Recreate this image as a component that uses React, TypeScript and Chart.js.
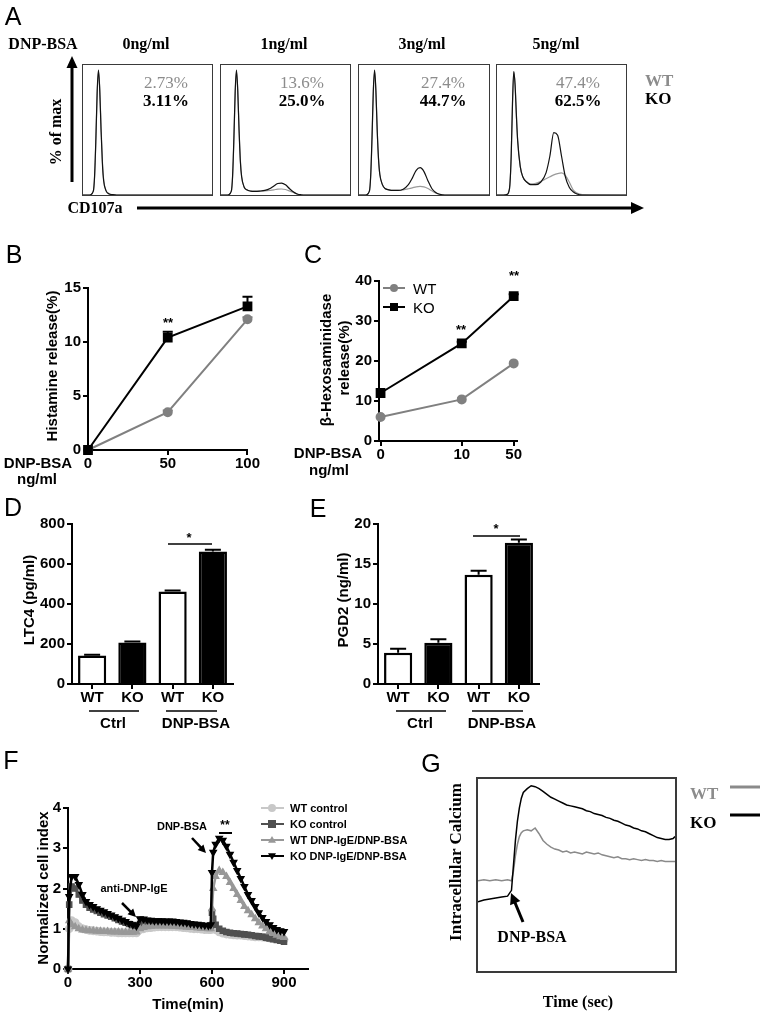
import React, { useEffect, useRef } from 'react';
import { Chart, registerables } from 'chart.js';
Chart.register(...registerables);

const SANS = '"Liberation Sans", Arial, Helvetica, sans-serif';
const SERIF = '"Liberation Serif", "Times New Roman", Times, serif';

// ---------- Panel A: CD107a histograms (channel 0-100, % of max) ----------
const aChannels = [0, 5, 8, 9, 10, 11, 12, 13, 14, 15, 16, 18, 20, 23, 26, 30, 34, 38, 41, 44, 47, 50, 53, 56, 59, 62, 66, 100];
const a0WT = [0, 0, 3, 14, 42, 78, 95, 82, 52, 27, 12, 3, 1, 0.3, 0, 0, 0, 0, 0, 0, 0, 0, 0, 0, 0, 0, 0, 0];
const a0KO = [0, 0, 3, 15, 44, 80, 96, 80, 50, 25, 11, 3, 1, 0.3, 0, 0, 0, 0, 0, 0, 0, 0, 0, 0, 0, 0, 0, 0];
const a1WT = [0, 0, 3, 14, 42, 78, 95, 80, 50, 27, 14, 6, 4, 3, 3, 3, 3.2, 3.6, 4, 4.5, 4.6, 4.2, 3.2, 2, 0.8, 0.2, 0, 0];
const a1KO = [0, 0, 3, 15, 44, 80, 96, 80, 50, 26, 14, 6, 4, 3, 2.8, 3, 3.5, 5, 7, 8.8, 9.2, 7.8, 5, 2.5, 0.8, 0.2, 0, 0];
const a3WT = [0, 0, 3, 14, 42, 78, 95, 80, 50, 28, 16, 8, 5, 4, 3.5, 3.5, 4, 4.8, 5.5, 6.3, 6.6, 6.2, 5, 3.2, 1.5, 0.5, 0, 0];
const a3KO = [0, 0, 3, 15, 44, 80, 96, 80, 50, 28, 16, 8, 5, 4, 3.5, 3.5, 4.5, 8, 13, 19, 21, 18, 11, 5, 2, 0.6, 0, 0];
const a5WT = [0, 0, 0.5, 2, 8, 30, 70, 95, 85, 62, 42, 22, 14, 10, 8.5, 9, 10.5, 12.5, 14, 15.5, 16.5, 17, 15, 10, 4, 1.5, 0.3, 0];
const a5KO = [0, 0, 0.5, 2, 8, 30, 70, 95, 85, 62, 42, 22, 14, 10, 8, 8, 10, 17, 30, 48, 46, 30, 14, 6, 2.5, 0.8, 0, 0];
const aDoses = ['0ng/ml', '1ng/ml', '3ng/ml', '5ng/ml'];
const aWTPct = ['2.73%', '13.6%', '27.4%', '47.4%'];
const aKOPct = ['3.11%', '25.0%', '44.7%', '62.5%'];

// ---------- Panel B: histamine release ----------
const bDose = [0, 50, 100];
const bWT = [0, 3.5, 12.1];
const bKO = [0, 10.4, 13.3];
const bWTErr = [0, 0.15, 0.2];
const bKOErr = [0, 0.55, 0.9];

// ---------- Panel C: beta-hexosaminidase release ----------
const cDose = [0, 10, 50];
const cWT = [6, 10.4, 19.4];
const cKO = [12, 24.4, 36.2];
const cWTErr = [0, 0, 0];
const cKOErr = [0, 0.4, 0.5];

// ---------- Panels D / E: bars ----------
const deLabels = ['WT', 'KO', 'WT', 'KO'];
const dLTC4 = [143, 207, 462, 663];
const dLTC4Err = [3, 5, 5, 8];
const ePGD2 = [3.9, 5.15, 13.65, 17.65];
const ePGD2Err = [0.5, 0.45, 0.5, 0.4];

// ---------- Panel F: normalized cell index ----------
const fTime = [0, 5, 15, 30, 45, 60, 75, 90, 105, 120, 135, 150, 165, 180, 195, 210, 225, 240, 255, 270, 285, 300, 315, 330, 345, 360, 375, 390, 405, 420, 435, 450, 465, 480, 495, 510, 525, 540, 555, 570, 585, 595, 600, 605, 615, 630, 645, 660, 675, 690, 705, 720, 735, 750, 765, 780, 795, 810, 825, 840, 855, 870, 885, 900];
const fWTCtrl = [0, 1.0, 1.2, 1.15, 1.05, 1.0, 0.98, 0.96, 0.95, 0.94,
  0.93, 0.92, 0.92, 0.91, 0.91, 0.9, 0.9, 0.9, 0.9, 0.9,
  0.9, 0.98, 1.0, 1.02, 1.03, 1.04, 1.05, 1.05, 1.05, 1.05,
  1.05, 1.05, 1.04, 1.03, 1.02, 1.01, 1.0, 1.0, 0.99, 0.98,
  0.98, 0.98, 1.1, 1.05, 0.98, 0.92, 0.89, 0.87, 0.86, 0.85,
  0.84, 0.84, 0.83, 0.82, 0.81, 0.8, 0.8, 0.79, 0.78, 0.77,
  0.76, 0.75, 0.74, 0.73];
const fKOCtrl = [0, 1.6, 2.05, 2.0, 1.85, 1.7, 1.6, 1.52, 1.48, 1.44,
  1.4, 1.36, 1.33, 1.3, 1.26, 1.22, 1.18, 1.15, 1.12, 1.09,
  1.07, 1.12, 1.13, 1.14, 1.14, 1.14, 1.14, 1.14, 1.14, 1.13,
  1.13, 1.12, 1.12, 1.11, 1.1, 1.1, 1.09, 1.08, 1.07, 1.06,
  1.06, 1.06, 1.4, 1.25, 1.1, 1.0, 0.95, 0.92, 0.9, 0.89,
  0.88, 0.87, 0.86, 0.85, 0.84, 0.82, 0.81, 0.8, 0.78, 0.76,
  0.74, 0.72, 0.7, 0.68];
const fWTDNP = [0, 1.2, 1.1, 1.05, 1.0, 0.97, 0.96, 0.95, 0.95, 0.94,
  0.94, 0.93, 0.93, 0.92, 0.92, 0.92, 0.91, 0.91, 0.91, 0.91,
  0.92, 1.0, 1.03, 1.05, 1.06, 1.07, 1.07, 1.07, 1.07, 1.07,
  1.06, 1.06, 1.05, 1.05, 1.04, 1.03, 1.03, 1.02, 1.01, 1.01,
  1.0, 1.0, 1.5, 2.0, 2.3, 2.45, 2.4, 2.3, 2.15, 2.0,
  1.85, 1.7, 1.55, 1.45, 1.35, 1.25, 1.15, 1.07, 1.0, 0.93,
  0.88, 0.84, 0.8, 0.78];
const fKODNP = [0, 1.8, 2.3, 2.3, 2.1, 1.85, 1.68, 1.6, 1.55, 1.5,
  1.46, 1.42, 1.38, 1.34, 1.3, 1.26, 1.22, 1.18, 1.13, 1.1,
  1.07, 1.25, 1.24, 1.22, 1.21, 1.2, 1.2, 1.2, 1.19, 1.19,
  1.19, 1.18, 1.17, 1.16, 1.15, 1.13, 1.12, 1.11, 1.1, 1.09,
  1.08, 1.1, 2.4, 2.9, 3.1, 3.25, 3.2, 3.05, 2.85, 2.65,
  2.45, 2.25, 2.05, 1.85, 1.7, 1.55, 1.4, 1.28, 1.18, 1.1,
  1.03, 0.98, 0.95, 0.93];
const fTicks = [0, 300, 600, 900];
const fLegend = ['WT control', 'KO control', 'WT DNP-IgE/DNP-BSA', 'KO DNP-IgE/DNP-BSA'];

// ---------- Panel G: intracellular calcium (time %, signal %) ----------
const gTime = [0, 3, 6, 9, 12, 15, 17, 18, 19, 20, 21, 22, 23, 25, 27, 29, 31, 33, 35, 37, 39, 41, 43, 45, 47, 49, 51, 53, 55, 57, 59, 61, 63, 65, 67, 69, 71, 73, 75, 77, 79, 81, 83, 85, 87, 89, 91, 93, 95, 97, 99, 100];
const gKO = [36, 37, 37.5, 38, 38.5, 39, 42, 55, 68, 78, 85, 90, 93, 95, 96.5, 96, 95, 93.5, 92, 90.5, 89.5, 88.5, 87.5, 86.5, 86, 85.5, 85, 84.5, 83.5, 83, 82, 81.5, 81, 80, 79.5, 78.5, 78, 77, 76, 75.5, 74.5, 74, 73, 72.5, 71.5, 70.5, 69.5, 69, 68.5, 68.5, 69, 70];
const gWT = [47, 47.5, 47, 47.5, 47, 47.5, 47, 52, 60, 66, 70, 72, 73, 73.5, 73, 74.5, 71.5, 68, 66, 64.5, 63.5, 63, 62, 62.5, 61.5, 62, 61.5, 61, 62, 61.5, 61, 61.5, 60.5, 60, 59.5, 59, 59.5, 58.5, 58.5, 58, 58.5, 58, 57.5, 58, 57.5, 57.5, 57, 57.5, 57, 57, 57, 57];

// ---------- helpers ----------
const tickFont = { family: SANS, size: 15, weight: 'bold' as const };

const errorBarPlugin = {
  id: 'errorBars',
  afterDatasetsDraw(chart: any) {
    const ctx = chart.ctx;
    chart.data.datasets.forEach((ds: any, di: number) => {
      if (!ds.errors) return;
      const meta = chart.getDatasetMeta(di);
      const ys = chart.scales[meta.yAxisID];
      meta.data.forEach((el: any, i: number) => {
        const e = ds.errors[i];
        if (!e) return;
        const raw = ds.data[i];
        const v = typeof raw === 'object' ? raw.y : raw;
        const y0 = ys.getPixelForValue(v);
        const y1 = ys.getPixelForValue(v + e);
        const cap = ds.errorCap || 5;
        ctx.save();
        ctx.strokeStyle = ds.errorColor || '#000';
        ctx.lineWidth = 2;
        ctx.beginPath();
        ctx.moveTo(el.x, y0);
        ctx.lineTo(el.x, y1);
        ctx.moveTo(el.x - cap, y1);
        ctx.lineTo(el.x + cap, y1);
        ctx.stroke();
        ctx.restore();
      });
    });
  },
};

function baseOptions(pad: any) {
  return {
    animation: false,
    responsive: false,
    devicePixelRatio: 1,
    events: [],
    layout: { padding: pad },
    plugins: { legend: { display: false }, tooltip: { enabled: false } },
  };
}

const axisGrid = { display: true, drawOnChartArea: false, drawTicks: true, tickLength: 5, color: '#000', lineWidth: 2 };
const axisBorder = { display: true, color: '#000', width: 2 };

function yAxis(min: number, max: number, step: number, width: number) {
  return {
    type: 'linear', min, max,
    ticks: { stepSize: step, color: '#000', font: tickFont, padding: 2 },
    grid: axisGrid, border: axisBorder,
    afterFit: (s: any) => { s.width = width; },
  };
}

function xLinear(min: number, max: number, ticks: number[], labels: string[], height: number) {
  return {
    type: 'linear', min, max,
    afterBuildTicks: (s: any) => { s.ticks = ticks.map((v) => ({ value: v })); },
    ticks: { color: '#000', font: tickFont, padding: 0, autoSkip: false, maxRotation: 0, callback: (_v: any, i: number) => labels[i] },
    grid: axisGrid, border: axisBorder,
    afterFit: (s: any) => { s.height = height; },
  };
}

function histConfig(wt: number[], ko: number[]) {
  const line = { borderWidth: 1.2, pointRadius: 0, cubicInterpolationMode: 'monotone', tension: 0.4, clip: false };
  return {
    type: 'line',
    data: {
      datasets: [
        { ...line, data: aChannels.map((x, i) => ({ x, y: ko[i] })), borderColor: '#111' },
        { ...line, data: aChannels.map((x, i) => ({ x, y: wt[i] })), borderColor: '#9a9a9a' },
      ],
    },
    options: {
      ...baseOptions(0),
      scales: { x: { type: 'linear', display: false, min: 0, max: 100 }, y: { display: false, min: 0, max: 100 } },
    },
  };
}

function configB() {
  return {
    type: 'line',
    data: {
      datasets: [
        { data: bDose.map((x, i) => ({ x, y: bKO[i] })), errors: bKOErr, borderColor: '#000', backgroundColor: '#000', borderWidth: 2, pointStyle: 'rect', pointRadius: 5.5, clip: false },
        { data: bDose.map((x, i) => ({ x, y: bWT[i] })), errors: bWTErr, errorColor: '#808080', borderColor: '#808080', backgroundColor: '#808080', borderWidth: 2, pointStyle: 'circle', pointRadius: 4, clip: false },
      ],
    },
    options: {
      ...baseOptions({ left: 0, top: 20, right: 12, bottom: 0 }),
      scales: { x: xLinear(0, 100, bDose, bDose.map(String), 30), y: yAxis(0, 15, 5, 38) },
    },
    plugins: [errorBarPlugin],
  };
}

function configC() {
  // dose axis is drawn on a log10(dose + 1) position scale
  const pos = cDose.map((d) => Math.log10(d + 1));
  return {
    type: 'line',
    data: {
      datasets: [
        { data: pos.map((x, i) => ({ x, y: cKO[i] })), errors: cKOErr, borderColor: '#000', backgroundColor: '#000', borderWidth: 2, pointStyle: 'rect', pointRadius: 5.5, clip: false },
        { data: pos.map((x, i) => ({ x, y: cWT[i] })), errors: cWTErr, borderColor: '#808080', backgroundColor: '#808080', borderWidth: 2, pointStyle: 'circle', pointRadius: 4, clip: false },
      ],
    },
    options: {
      ...baseOptions({ left: 0, top: 23, right: 13, bottom: 0 }),
      scales: { x: xLinear(-0.02, 1.75, pos, cDose.map(String), 29), y: yAxis(0, 40, 10, 34) },
    },
    plugins: [errorBarPlugin],
  };
}

function barConfig(values: number[], errs: number[], max: number, step: number) {
  return {
    type: 'bar',
    data: {
      labels: deLabels,
      datasets: [{
        data: values, errors: errs, errorCap: 8,
        backgroundColor: ['#fff', '#000', '#fff', '#000'], borderColor: '#000', borderWidth: 2.5,
        barPercentage: 0.7, categoryPercentage: 1, borderSkipped: 'bottom',
      }],
    },
    options: {
      ...baseOptions({ left: 0, top: 19, right: 7, bottom: 0 }),
      scales: {
        x: {
          type: 'category', offset: true,
          ticks: { color: '#000', font: tickFont, padding: 0, autoSkip: false, maxRotation: 0 },
          grid: { ...axisGrid, offset: false }, border: axisBorder,
          afterFit: (s: any) => { s.height = 31; },
        },
        y: yAxis(0, max, step, 47),
      },
    },
    plugins: [errorBarPlugin],
  };
}

const fColors = ['#c8c8c8', '#505050', '#989898', '#000000'];
function configF() {
  const series = [fWTCtrl, fKOCtrl, fWTDNP, fKODNP];
  const styles = [
    { pointStyle: 'circle', rotation: 0 },
    { pointStyle: 'rect', rotation: 0 },
    { pointStyle: 'triangle', rotation: 0 },
    { pointStyle: 'triangle', rotation: 180 },
  ];
  const order = [3, 2, 1, 0];
  return {
    type: 'line',
    data: {
      datasets: order.map((k) => ({
        data: fTime.map((x, i) => ({ x, y: series[k][i] })),
        borderColor: fColors[k], backgroundColor: fColors[k], borderWidth: 2.5,
        pointRadius: 3.8, pointBorderWidth: 1.2, ...styles[k], clip: false,
      })),
    },
    options: {
      ...baseOptions({ left: 0, top: 13, right: 12, bottom: 0 }),
      scales: { x: xLinear(0, 1000, fTicks, fTicks.map(String), 31), y: yAxis(0, 4, 1, 53) },
    },
  };
}

function configG() {
  const line = { borderWidth: 1.5, pointRadius: 0, tension: 0, clip: false };
  return {
    type: 'line',
    data: {
      datasets: [
        { ...line, data: gTime.map((x, i) => ({ x, y: gKO[i] })), borderColor: '#000' },
        { ...line, data: gTime.map((x, i) => ({ x, y: gWT[i] })), borderColor: '#8a8a8a' },
      ],
    },
    options: {
      ...baseOptions(0),
      scales: { x: { type: 'linear', display: false, min: 0, max: 100 }, y: { display: false, min: 0, max: 100 } },
    },
  };
}

function ChartBox({ left, top, width, height, make, border }: { left: number; top: number; width: number; height: number; make: () => any; border?: string }) {
  const ref = useRef<HTMLCanvasElement>(null);
  const bw = border ? 1 : 0;
  useEffect(() => {
    const chart = new Chart(ref.current as HTMLCanvasElement, make());
    return () => chart.destroy();
  }, []);
  return (
    <div style={{ position: 'absolute', left, top, width, height, boxSizing: 'border-box', border: border ? `1px solid ${border}` : 'none' }}>
      <canvas ref={ref} width={width - 2 * bw} height={height - 2 * bw} style={{ display: 'block', width: width - 2 * bw, height: height - 2 * bw }} />
    </div>
  );
}

function T({ x, y, s, f = SANS, w = 'bold', c = '#000', rot = false, a = 'c', children }: any) {
  const tx = a === 'l' ? '0' : a === 'r' ? '-100%' : '-50%';
  return (
    <div style={{ position: 'absolute', left: x, top: y, transform: `translate(${tx},-50%)${rot ? ' rotate(-90deg)' : ''}`, fontFamily: f, fontSize: s, fontWeight: w, color: c, lineHeight: 1, whiteSpace: 'nowrap' }}>
      {children}
    </div>
  );
}

function Arrow({ x1, y1, x2, y2, w = 3, hl = 12, hw = 6, c = '#000' }: any) {
  const dx = x2 - x1, dy = y2 - y1, L = Math.hypot(dx, dy), ux = dx / L, uy = dy / L;
  const bx = x2 - ux * hl, by = y2 - uy * hl, px = -uy, py = ux;
  return (
    <g>
      <line x1={x1} y1={y1} x2={bx + ux} y2={by + uy} stroke={c} strokeWidth={w} />
      <polygon points={`${x2},${y2} ${bx + px * hw},${by + py * hw} ${bx - px * hw},${by - py * hw}`} fill={c} />
    </g>
  );
}

function Marker({ kind, x, y, c, r = 4 }: any) {
  if (kind === 'circle') return <circle cx={x} cy={y} r={r} fill={c} />;
  if (kind === 'rect') return <rect x={x - r} y={y - r} width={2 * r} height={2 * r} fill={c} />;
  if (kind === 'up') return <polygon points={`${x},${y - r} ${x - r},${y + r * 0.7} ${x + r},${y + r * 0.7}`} fill={c} />;
  return <polygon points={`${x},${y + r} ${x - r},${y - r * 0.7} ${x + r},${y - r * 0.7}`} fill={c} />;
}

export default function App() {
  const aBoxes = [[82, 131], [220, 131], [358, 132], [496, 131]];
  const aSeries = [[a0WT, a0KO], [a1WT, a1KO], [a3WT, a3KO], [a5WT, a5KO]];
  const aHead = [146, 284, 422, 556];
  const aPctX = [166, 302, 443, 578];
  const fMarkers = ['circle', 'rect', 'up', 'down'];
  return (
    <div style={{ position: 'absolute', left: 0, top: 0, width: 762, height: 1015, background: '#fff', overflow: 'hidden', fontFamily: SANS }}>
      {/* ===== A ===== */}
      {aBoxes.map(([x, w], i) => (
        <ChartBox key={'a' + i} left={x} top={64} width={w} height={132} border="#3a3a3a" make={() => histConfig(aSeries[i][0], aSeries[i][1])} />
      ))}
      {/* ===== B–G charts ===== */}
      <ChartBox left={50} top={268} width={210} height={212} make={configB} />
      <ChartBox left={345} top={258} width={185} height={212} make={configC} />
      <ChartBox left={25} top={505} width={215} height={210} make={() => barConfig(dLTC4, dLTC4Err, 800, 200)} />
      <ChartBox left={331} top={505} width={215} height={210} make={() => barConfig(ePGD2, ePGD2Err, 20, 5)} />
      <ChartBox left={15} top={795} width={305} height={205} make={configF} />
      <div style={{ position: 'absolute', left: 476, top: 777, width: 201, height: 196, boxSizing: 'border-box', border: '2px solid #3a3a3a' }} />
      <ChartBox left={478} top={779} width={197} height={192} make={configG} />

      <svg width={762} height={1015} style={{ position: 'absolute', left: 0, top: 0, pointerEvents: 'none' }}>
        {/* A arrows */}
        <Arrow x1={72} y1={182} x2={72} y2={56} w={3} hl={12} hw={5.5} />
        <Arrow x1={137} y1={208} x2={644} y2={208} w={3} hl={13} hw={6} />
        {/* C legend */}
        <line x1={383} y1={288} x2={405} y2={288} stroke="#808080" strokeWidth={2} />
        <Marker kind="circle" x={394} y={288} c="#808080" r={4} />
        <line x1={383} y1={307} x2={405} y2={307} stroke="#000" strokeWidth={2} />
        <Marker kind="rect" x={394} y={307} c="#000" r={4} />
        {/* D / E group lines and significance */}
        <line x1={89} y1={711} x2={139} y2={711} stroke="#000" strokeWidth={1.5} />
        <line x1={166} y1={711} x2={217} y2={711} stroke="#000" strokeWidth={1.5} />
        <line x1={168} y1={544} x2={212} y2={544} stroke="#000" strokeWidth={1.5} />
        <line x1={396} y1={711} x2={446} y2={711} stroke="#000" strokeWidth={1.5} />
        <line x1={472} y1={711} x2={523} y2={711} stroke="#000" strokeWidth={1.5} />
        <line x1={473} y1={536} x2={520} y2={536} stroke="#000" strokeWidth={1.5} />
        {/* F annotations */}
        <Arrow x1={122} y1={903} x2={136} y2={917} w={2.5} hl={8} hw={4} />
        <Arrow x1={192} y1={838} x2={206} y2={853} w={2.5} hl={8} hw={4} />
        <line x1={219} y1={833} x2={232} y2={833} stroke="#000" strokeWidth={2} />
        {fLegend.map((_, i) => (
          <g key={'fl' + i}>
            <line x1={261} y1={808 + i * 16} x2={284} y2={808 + i * 16} stroke={fColors[i]} strokeWidth={2} />
            <Marker kind={fMarkers[i]} x={272} y={808 + i * 16} c={fColors[i]} r={4} />
          </g>
        ))}
        {/* G annotations */}
        <Arrow x1={523} y1={922} x2={511} y2={893} w={3} hl={11} hw={5.5} />
        <line x1={730} y1={787} x2={760} y2={787} stroke="#8a8a8a" strokeWidth={3} />
        <line x1={730} y1={815} x2={760} y2={815} stroke="#000" strokeWidth={3} />
      </svg>

      {/* ===== texts: A ===== */}
      <T x={13} y={16} s={25} w="normal">A</T>
      <T x={43} y={44} s={16} f={SERIF}>DNP-BSA</T>
      {aDoses.map((d, i) => <T key={'ad' + i} x={aHead[i]} y={44} s={16} f={SERIF}>{d}</T>)}
      {aWTPct.map((p, i) => <T key={'aw' + i} x={aPctX[i]} y={82} s={17} f={SERIF} w="normal" c="#8c8c8c">{p}</T>)}
      {aKOPct.map((p, i) => <T key={'ak' + i} x={aPctX[i]} y={100} s={17} f={SERIF}>{p}</T>)}
      <T x={645} y={80} s={17} f={SERIF} c="#8c8c8c" a="l">WT</T>
      <T x={645} y={98} s={17} f={SERIF} a="l">KO</T>
      <T x={56} y={132} s={16} f={SERIF} rot>% of max</T>
      <T x={95} y={208} s={16} f={SERIF}>CD107a</T>

      {/* ===== B ===== */}
      <T x={14} y={254} s={25} w="normal">B</T>
      <T x={51} y={366} s={15} rot>Histamine release(%)</T>
      <T x={38} y={462} s={15}>DNP-BSA</T>
      <T x={37} y={478} s={15}>ng/ml</T>
      <T x={168} y={322} s={13}>**</T>

      {/* ===== C ===== */}
      <T x={313} y={254} s={25} w="normal">C</T>
      <T x={325} y={360} s={15} rot>β-Hexosaminidase</T>
      <T x={343} y={358} s={15} rot>release(%)</T>
      <T x={413} y={288} s={15} w="normal" a="l">WT</T>
      <T x={413} y={307} s={15} w="normal" a="l">KO</T>
      <T x={461} y={329} s={13}>**</T>
      <T x={514} y={275} s={13}>**</T>
      <T x={328} y={452} s={15}>DNP-BSA</T>
      <T x={329} y={469} s={15}>ng/ml</T>

      {/* ===== D ===== */}
      <T x={13} y={507} s={25} w="normal">D</T>
      <T x={28} y={600} s={15} rot>LTC4 (pg/ml)</T>
      <T x={113} y={722} s={15}>Ctrl</T>
      <T x={196} y={722} s={15}>DNP-BSA</T>
      <T x={189} y={537} s={13}>*</T>

      {/* ===== E ===== */}
      <T x={318} y={508} s={25} w="normal">E</T>
      <T x={342} y={600} s={15} rot>PGD2 (ng/ml)</T>
      <T x={420} y={722} s={15}>Ctrl</T>
      <T x={502} y={722} s={15}>DNP-BSA</T>
      <T x={496} y={528} s={13}>*</T>

      {/* ===== F ===== */}
      <T x={11} y={760} s={25} w="normal">F</T>
      <T x={42} y={888} s={15} rot>Normalized cell index</T>
      <T x={188} y={1003} s={15}>Time(min)</T>
      {fLegend.map((l, i) => <T key={'ft' + i} x={290} y={808 + i * 16} s={11} a="l">{l}</T>)}
      <T x={134} y={888} s={11}>anti-DNP-IgE</T>
      <T x={182} y={826} s={11}>DNP-BSA</T>
      <T x={225} y={825} s={12}>**</T>

      {/* ===== G ===== */}
      <T x={431} y={763} s={25} w="normal">G</T>
      <T x={455} y={862} s={17} f={SERIF} rot>Intracellular Calcium</T>
      <T x={578} y={1002} s={16} f={SERIF}>Time (sec)</T>
      <T x={532} y={937} s={16} f={SERIF}>DNP-BSA</T>
      <T x={690} y={793} s={17} f={SERIF} c="#8c8c8c" a="l">WT</T>
      <T x={690} y={822} s={17} f={SERIF} a="l">KO</T>
    </div>
  );
}
